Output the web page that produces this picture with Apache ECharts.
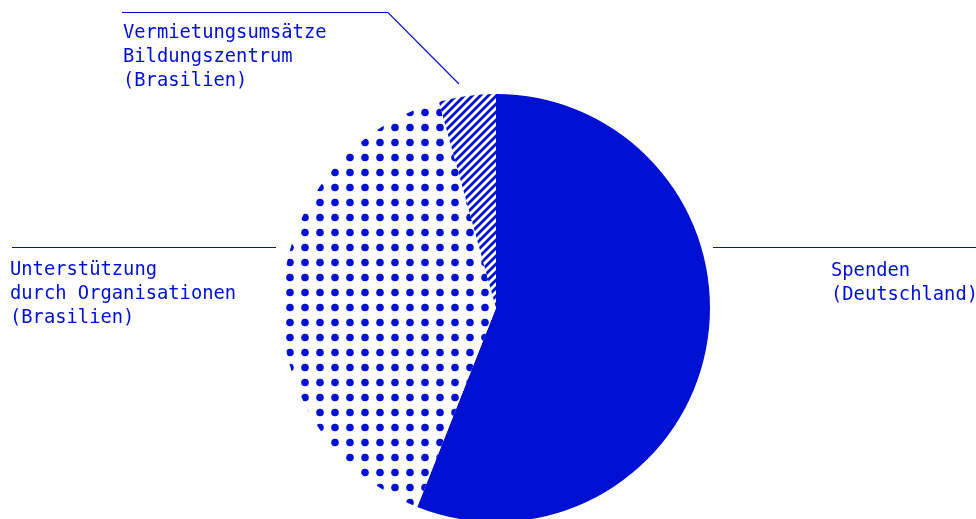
<!DOCTYPE html>
<html>
<head>
<meta charset="utf-8">
<style>
  html, body { margin: 0; padding: 0; background: #ffffff; }
  #chart { width: 976px; height: 519px; }
</style>
<script src="https://cdn.jsdelivr.net/npm/echarts@6/dist/echarts.min.js"></script>
</head>
<body>
<div id="chart"></div>
<script>
// ---- data ----
const categories = [
  'Spenden\n(Deutschland)',
  'Unterstützung\ndurch Organisationen\n(Brasilien)',
  'Vermietungsumsätze\nBildungszentrum\n(Brasilien)'
];
const values = [56, 39.7, 4.3];

// ---- styling ----
const BLUE = '#0010d2';

function dotPattern() {
  const c = document.createElement('canvas');
  c.width = 15; c.height = 15;
  const ctx = c.getContext('2d');
  ctx.fillStyle = '#ffffff';
  ctx.fillRect(0, 0, 15, 15);
  ctx.fillStyle = BLUE;
  ctx.beginPath();
  ctx.arc(5, 7.5, 3.8, 0, Math.PI * 2);
  ctx.fill();
  return c;
}
function hatchPattern() {
  const s = 8;
  const c = document.createElement('canvas');
  c.width = s; c.height = s;
  const ctx = c.getContext('2d');
  ctx.fillStyle = '#ffffff';
  ctx.fillRect(0, 0, s, s);
  ctx.strokeStyle = BLUE;
  ctx.lineWidth = 2.8;
  ctx.beginPath();
  ctx.moveTo(-2, s + 2); ctx.lineTo(s + 2, -2);
  ctx.moveTo(-2, 2); ctx.lineTo(2, -2);
  ctx.moveTo(s - 2, s + 2); ctx.lineTo(s + 2, s - 2);
  ctx.stroke();
  return c;
}

const fills = [
  BLUE,
  { image: dotPattern(), repeat: 'repeat' },
  { image: hatchPattern(), repeat: 'repeat' }
];

const labelSpots = [
  { x: 831, y: 259, line: [[713, 247.5], [845, 247.5], [976, 247.5]] },
  { x: 10, y: 258, line: [[12, 247.5], [144, 247.5], [276, 247.5]] },
  { x: 123, y: 21, line: [[459, 84], [388, 12.5], [122, 12.5]] }
];

const chart = echarts.init(document.getElementById('chart'), null, { renderer: 'canvas' });
chart.setOption({
  animation: false,
  backgroundColor: '#ffffff',
  series: [{
    type: 'pie',
    center: [496, 308],
    radius: [0, 214],
    startAngle: 90,
    clockwise: true,
    silent: true,
    data: categories.map((name, i) => ({
      name: name,
      value: values[i],
      itemStyle: { color: fills[i] }
    })),
    itemStyle: { borderWidth: 0 },
    label: {
      show: true,
      position: 'outside',
      formatter: '{b}',
      color: BLUE,
      fontFamily: 'DejaVu Sans Mono',
      fontSize: 18.8,
      lineHeight: 24,
      align: 'left',
      overflow: 'none',
      width: 400
    },
    labelLine: {
      show: true,
      lineStyle: { color: BLUE, width: 1.2 }
    },
    labelLayout: function (params) {
      const s = labelSpots[params.dataIndex];
      return {
        x: s.x,
        y: s.y,
        align: 'left',
        verticalAlign: 'top',
        labelLinePoints: s.line
      };
    }
  }]
});
</script>
</body>
</html>
